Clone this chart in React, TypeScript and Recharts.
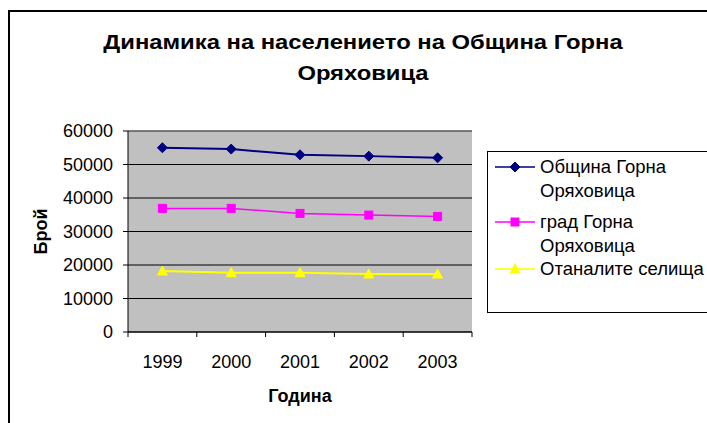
import React from 'react';
import { LineChart, Line, XAxis, YAxis, CartesianGrid, Legend, ReferenceLine, Label } from 'recharts';

const years = ['1999', '2000', '2001', '2002', '2003'];
const municipality = [55000, 54600, 52900, 52500, 52000];
const town = [36900, 36900, 35400, 34900, 34500];
const villages = [18200, 17700, 17700, 17300, 17300];
const yTicks = [0, 10000, 20000, 30000, 40000, 50000, 60000];

const seriesNames = ['Община Горна Оряховица', 'град Горна Оряховица', 'Отаналите селища'];
const seriesColors = ['#000080', '#FF00FF', '#FFFF00'];
const seriesShapes = ['diamond', 'square', 'triangle'];

const data = years.map((y, i) => ({
  year: y,
  s0: municipality[i],
  s1: town[i],
  s2: villages[i],
}));

const FONT = '"Liberation Sans", Arial, sans-serif';
const TICK_MARGIN = 23;

const Marker = ({ shape, cx, cy, color }: any) => {
  if (shape === 'diamond') {
    return <polygon points={`${cx},${cy - 5} ${cx + 5},${cy} ${cx},${cy + 5} ${cx - 5},${cy}`} fill={color} stroke={color} />;
  }
  if (shape === 'square') {
    return <rect x={cx - 4} y={cy - 4} width={8} height={8} fill={color} stroke={color} />;
  }
  return <polygon points={`${cx},${cy - 5} ${cx + 5},${cy + 4} ${cx - 5},${cy + 4}`} fill={color} stroke={color} />;
};

const makeDot = (idx: number) => (props: any) => {
  const { cx, cy, index } = props;
  return <Marker key={`d${idx}-${index}`} shape={seriesShapes[idx]} cx={cx} cy={cy} color={seriesColors[idx]} />;
};

// category labels in the band centre, tick marks on the band edges
const YearTick = (props: any) => {
  const { x, y, payload, index, visibleTicksCount } = props;
  const axisY = y - TICK_MARGIN;
  const left = payload.coordinate - payload.offset;
  const right = payload.coordinate + payload.offset;
  return (
    <g>
      <line x1={left} y1={axisY} x2={left} y2={axisY + 5} stroke="#000" />
      {index === visibleTicksCount - 1 && <line x1={right} y1={axisY} x2={right} y2={axisY + 5} stroke="#000" />}
      <text x={x} y={y} dy="0.71em" textAnchor="middle" fontSize={18} fontFamily={FONT} fill="#000">
        {payload.value}
      </text>
    </g>
  );
};

const itemGaps = [8, 0, 0];

const LegendBox = () => (
  <div style={{ width: 230, height: 162, border: '1px solid #000', background: '#fff', fontFamily: FONT, fontSize: 18.5, color: '#000', boxSizing: 'border-box', paddingTop: 3 }}>
    {seriesNames.map((name, i) => (
      <div key={name} style={{ display: 'flex', alignItems: 'flex-start', marginBottom: itemGaps[i] }}>
        <svg width={52} height={24} style={{ flex: 'none' }}>
          <line x1={7} y1={12} x2={47} y2={12} stroke={seriesColors[i]} strokeWidth={1.5} />
          <Marker shape={seriesShapes[i]} cx={27} cy={12} color={seriesColors[i]} />
        </svg>
        <span style={{ width: 176, lineHeight: '23.5px', whiteSpace: 'normal' }}>{name}</span>
      </div>
    ))}
  </div>
);

export default function App() {
  return (
    <div style={{ position: 'absolute', left: 0, top: 0, width: 707, height: 423, overflow: 'hidden', background: '#fff' }}>
      <div style={{ position: 'absolute', left: 8, top: 10, width: 720, height: 430, border: '2px solid #000', boxSizing: 'border-box' }} />
      <div style={{ position: 'absolute', left: 138, top: 27, width: 450, textAlign: 'center', fontFamily: FONT, fontWeight: 'bold', fontSize: 20, lineHeight: '31px', color: '#000', transform: 'scaleX(1.19)', transformOrigin: '50% 0' }}>
        Динамика на населението на Община Горна Оряховица
      </div>
      <div style={{ position: 'absolute', left: 0, top: 0 }}>
        <LineChart width={707} height={423} data={data} margin={{ top: 131, right: 235, bottom: 0, left: 0 }}>
          <CartesianGrid vertical={false} stroke="#000" fill="#C0C0C0" fillOpacity={1} />
          <XAxis
            dataKey="year"
            scale="band"
            height={91}
            axisLine={{ stroke: '#000' }}
            tickLine={false}
            tickSize={0}
            tickMargin={TICK_MARGIN}
            tick={<YearTick />}
            interval={0}
          >
            <Label value="Година" position="center" dy={18} style={{ fontFamily: FONT, fontSize: 18, fontWeight: 'bold', fill: '#000' }} />
          </XAxis>
          <YAxis
            width={128}
            domain={[0, 60000]}
            ticks={yTicks}
            interval={0}
            axisLine={{ stroke: '#000' }}
            tickLine={{ stroke: '#000' }}
            tickSize={5}
            tickMargin={10}
            tick={{ fontFamily: FONT, fontSize: 18, fill: '#000' }}
          >
            <Label value="Брой" angle={-90} position="center" dx={-23} style={{ fontFamily: FONT, fontSize: 18, fontWeight: 'bold', fill: '#000' }} />
          </YAxis>
          <YAxis yAxisId="r" orientation="right" width={0} tick={false} tickLine={false} axisLine={{ stroke: '#808080' }} domain={[0, 60000]} />
          <ReferenceLine y={60000} stroke="#808080" />
          <Line dataKey="s0" name={seriesNames[0]} stroke={seriesColors[0]} strokeWidth={2} dot={makeDot(0)} isAnimationActive={false} />
          <Line dataKey="s1" name={seriesNames[1]} stroke={seriesColors[1]} strokeWidth={1.5} dot={makeDot(1)} isAnimationActive={false} />
          <Line dataKey="s2" name={seriesNames[2]} stroke={seriesColors[2]} strokeWidth={2} dot={makeDot(2)} isAnimationActive={false} />
          <Legend layout="vertical" align="center" verticalAlign="middle" content={<LegendBox />} wrapperStyle={{ position: 'absolute', left: 487, top: 151, width: 230 }} />
        </LineChart>
      </div>
    </div>
  );
}
